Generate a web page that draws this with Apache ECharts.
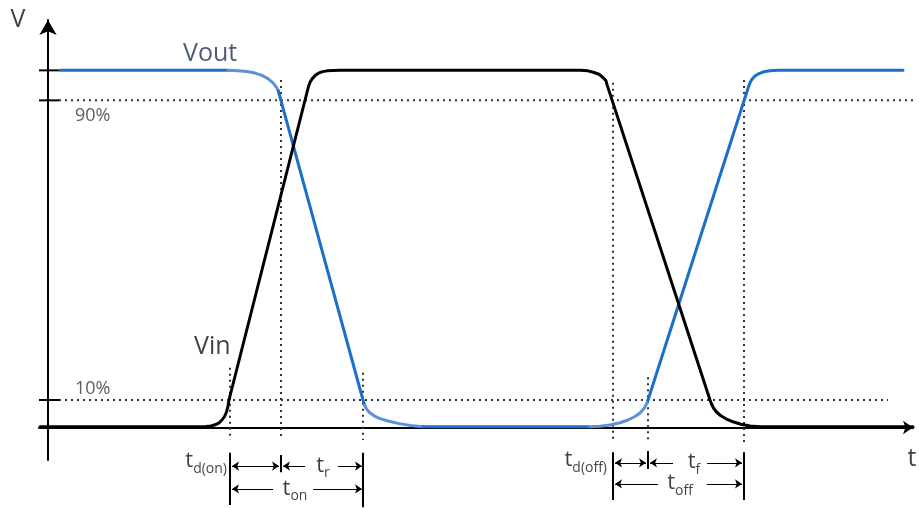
<!DOCTYPE html>
<html>
<head>
<meta charset="utf-8">
<script src="https://cdn.jsdelivr.net/npm/echarts@6/dist/echarts.min.js"></script>
<style>html,body{margin:0;padding:0;background:#fff}#c{width:919px;height:508px}</style>
</head>
<body>
<div id="c"></div>
<script>
// ---- data (time in arbitrary units, voltage in % of full swing) ----
const vin = [[-0.8,0.2],[15.2,0.2],[15.8,0.3],[16.3,0.42],[16.7,0.76],[17.1,1.32],[17.4,2.1],[17.65,3.08],[17.85,4.34],[18.0,6.0],[18.1,7.7],
  [25.96,94.5],[26.07,95.66],[26.23,96.8],[26.45,97.76],[26.73,98.6],[27.05,99.22],[27.45,99.64],[27.9,99.86],[28.5,99.97],[29.2,100],
  [53.2,100],[54.0,99.86],[54.6,99.4],[55.1,98.9],[55.5,98.0],[55.8,97.06],[55.9,96.0],
  [66.2,7.7],[66.35,6.58],[66.55,5.46],[66.85,4.34],[67.25,3.36],[67.8,2.44],[68.5,1.6],[69.3,0.92],[70.2,0.42],[71.2,0.22],[72.2,0.2],[86.5,0.2]];
const voutHighLeft = [[1.2,100],[18.0,100]];
const voutFallKnee = [[18.0,100],[19.0,99.9],[19.9,99.66],[20.7,99.24],[21.4,98.6],[22.0,97.68],[22.5,96.5],[22.85,95.24],[23.03,94.26]];
const voutFall = [[23.03,94.26],[31.5,7.7],[31.65,6.3]];
const voutLowKnee = [[31.65,6.3],[31.85,5.18],[32.15,4.2],[32.6,3.28],[33.2,2.49],[34.0,1.82],[35.0,1.15],[36.2,0.59],[37.5,0.2]];
const voutLow = [[37.5,0.2],[54.2,0.2]];
const voutRiseKnee = [[54.2,0.2],[55.2,0.34],[56.2,0.7],[57.2,1.32],[58.0,2.1],[58.7,3.08],[59.2,4.06],[59.6,5.32],[59.85,6.58],[60.0,7.7]];
const voutRise = [[60.0,7.7],[70.05,95.4],[70.2,96.5],[70.4,97.5],[70.7,98.4],[71.1,99.1],[71.6,99.6],[72.2,99.86],[73.0,100],[85.5,100]];
const levelTicks = [100, 91.6, 7.7];
const thresholds = [91.6, 7.7];
const thresholdLabels = ['90%', '10%'];
const tEvents = [18.2, 23.3, 31.5, 56.5, 60.0, 69.6];

// ---- annotation geometry / styles ----
const FONT = 'Open Sans';
const dot = {color:'#333', width:2, type:[2,4]};
const lineSeries = (pts, style, z) => ({type:'line', data:pts, symbol:'none', clip:false, silent:true,
  lineStyle:style, z:z||2, animation:false});

const series = [];
series.push(lineSeries([[1.1,thresholds[0]],[87.0,thresholds[0]]], dot, 1));
series.push(lineSeries([[1.1,thresholds[1]],[84.0,thresholds[1]]], dot, 1));
const vTop = [16.7, 97.3, 15.3, 96.5, 14.1, 97.3];
const vBot = [-3.5, -3.5, -3.5, -4.1, -4.1, -4.1];
tEvents.forEach((t,i)=>series.push(lineSeries([[t,vTop[i]],[t,vBot[i]]], dot, 1)));
levelTicks.forEach(v=>series.push(lineSeries([[-0.9,v],[1.1,v]], {color:'#000', width:2}, 3)));
const DARK = '#1a6fc9', LIGHT = '#5b90da';
const curve = (d, c, z) => lineSeries(d, {color:c, width:3, cap:'round', join:'round'}, z);
series.push(curve(vin, '#000', 5));
[[voutHighLeft,DARK],[voutFallKnee,LIGHT],[voutFall,DARK],[voutLowKnee,LIGHT],[voutLow,DARK],[voutRiseKnee,LIGHT],[voutRise,DARK]]
  .forEach(([d,c])=>series.push(curve(d, c, 4)));
const barTop = [-7.1,-7.7,-7.1,-6.9,-6.6,-6.9];
const barBot = [-21.7,-12.5,-22.3,-20.3,-11.6,-20.3];
tEvents.forEach((t,i)=>series.push(lineSeries([[t,barTop[i]],[t,barBot[i]]], {color:'#000', width:2}, 6)));
const r1on=-10.8, r2on=-17.2, r1off=-9.9, r2off=-15.8;
const singleArrows = [
  [[25.7,r1on],[23.5,r1on]], [[29.0,r1on],[31.4,r1on]],
  [[22.5,r2on],[18.4,r2on]], [[26.5,r2on],[31.4,r2on]],
  [[62.5,r1off],[60.2,r1off]], [[65.9,r1off],[69.4,r1off]],
  [[61.0,r2off],[56.7,r2off]], [[65.9,r2off],[69.4,r2off]]
];
const doubleArrows = [[[18.4,r1on],[23.1,r1on]], [[56.7,r1off],[59.8,r1off]]];
series.push({type:'lines', coordinateSystem:'cartesian2d', clip:false, silent:true, animation:false,
  symbol:['none','arrow'], symbolSize:7, lineStyle:{color:'#000', width:1, opacity:1},
  data:singleArrows.map(c=>({coords:c})), z:6});
series.push({type:'lines', coordinateSystem:'cartesian2d', clip:false, silent:true, animation:false,
  symbol:['arrow','arrow'], symbolSize:7, lineStyle:{color:'#000', width:1, opacity:1},
  data:doubleArrows.map(c=>({coords:c})), z:6});
const rich = {
  m:{fontSize:22, fontFamily:FONT, color:'#111', padding:[0,0,4,0], verticalAlign:'bottom'},
  s:{fontSize:14, fontFamily:FONT, color:'#111', verticalAlign:'bottom'}
};
const texts = [
  {p:[-3.0,114.2], f:'V', st:{fontSize:25, color:'#111'}},
  {p:[86.4,-8.8], f:'t', st:{fontSize:25, color:'#111'}},
  {p:[13.5,104.5], f:'Vout', st:{fontSize:25, color:'#1a2f58', align:'left'}},
  {p:[14.6,22.5], f:'Vin', st:{fontSize:25, color:'#111', align:'left'}},
  {p:[2.7,87.3], f:thresholdLabels[0], st:{fontSize:18, color:'#333', align:'left'}},
  {p:[2.7,10.7], f:thresholdLabels[1], st:{fontSize:18, color:'#333', align:'left'}},
  {p:[17.9,-9.9], f:'{m|t}{s|d(on)}', st:{align:'right', rich}},
  {p:[27.5,-11.2], f:'{m|t}{s|r}', st:{rich}},
  {p:[24.7,-17.6], f:'{m|t}{s|on}', st:{rich}},
  {p:[55.9,-9.6], f:'{m|t}{s|d(off)}', st:{align:'right', rich}},
  {p:[64.6,-10.2], f:'{m|t}{s|f}', st:{rich}},
  {p:[63.2,-16.0], f:'{m|t}{s|off}', st:{rich}}
];
series.push({type:'scatter', symbolSize:0, clip:false, silent:true, animation:false, z:7,
  data:texts.map(t=>({value:t.p, label:Object.assign({show:true, position:'inside', formatter:t.f,
    fontFamily:FONT, verticalAlign:'middle', align:'center', textBorderWidth:0}, t.st)}))});

const chart = echarts.init(document.getElementById('c'), null, {renderer:'canvas'});
chart.setOption({
  backgroundColor:'#fff',
  animation:false,
  grid:{left:39, right:6, top:20, bottom:48},
  xAxis:{type:'value', min:-0.9, max:86.5, axisLine:{onZero:true, lineStyle:{color:'#000', width:2}, symbol:['none','arrow'], symbolSize:[10,10]},
    axisTick:{show:false}, axisLabel:{show:false}, splitLine:{show:false}},
  yAxis:{type:'value', min:-9.1, max:114.1, axisLine:{onZero:true, lineStyle:{color:'#000', width:2}, symbol:['none','arrow'], symbolSize:[13,15]},
    axisTick:{show:false}, axisLabel:{show:false}, splitLine:{show:false}},
  series
});
</script>
</body>
</html>
